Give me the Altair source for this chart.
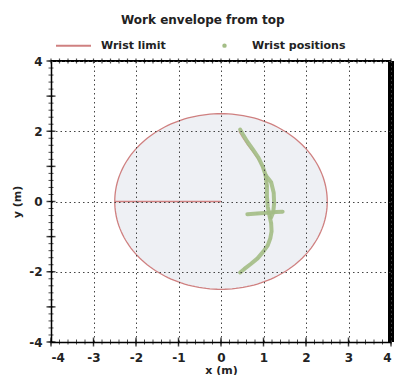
import altair as alt
import pandas as pd
import numpy as np

# ---- data ----
limit_radius = 2.5                      # wrist reach limit (m)
reach_x = [0.0, -2.5]                   # radial line drawn from origin to limit
reach_y = [0.0, 0.0]

# wrist trajectory, main sweep
sweep_x = [0.45, 0.52, 0.62, 0.75, 0.88, 0.98, 1.05, 1.08, 1.08, 1.10, 1.14, 1.18, 1.19, 1.16, 1.10, 1.00, 0.86, 0.70, 0.55, 0.45]
sweep_y = [2.05, 1.90, 1.70, 1.48, 1.25, 1.00, 0.75, 0.45, 0.15, -0.15, -0.40, -0.62, -0.85, -1.05, -1.25, -1.42, -1.62, -1.78, -1.92, -2.02]
# return loop beside the sweep
loop_x = [1.05, 1.18, 1.24, 1.25, 1.23, 1.18]
loop_y = [0.75, 0.55, 0.25, -0.05, -0.30, -0.45]
# horizontal stroke
bar_x = [0.62, 0.85, 1.10, 1.30, 1.45]
bar_y = [-0.36, -0.34, -0.32, -0.30, -0.29]
# thin reddish trace along upper sweep
trace_x = [0.42, 0.50, 0.62, 0.76, 0.90, 1.00, 1.06, 1.10]
trace_y = [2.00, 1.84, 1.62, 1.40, 1.15, 0.90, 0.65, 0.40]

series = ["Wrist limit", "Wrist positions"]
colors = ["#cf8080", "#a3bd85"]
legend_shapes = ["M-1,0H1", "M-0.07,0A0.07,0.07,0,1,1,0.07,0A0.07,0.07,0,1,1,-0.07,0Z"]
major_ticks = [-4, -3, -2, -1, 0, 1, 2, 3, 4]
minor_ticks = [round(v, 1) for v in np.arange(-4, 4.001, 0.2)]

# ---- frames ----
t = np.linspace(0, np.pi, 91)
fill_df = pd.DataFrame({"x": limit_radius * np.cos(t),
                        "y": limit_radius * np.sin(t),
                        "y2": -limit_radius * np.sin(t)})
tt = np.linspace(np.pi, 3 * np.pi, 181)
outline_df = pd.DataFrame({"x": reach_x + list(limit_radius * np.cos(tt)),
                           "y": reach_y + list(limit_radius * np.sin(tt))})
outline_df["o"] = range(len(outline_df))

traj_rows = []
for name, xs_, ys_ in [("sweep", sweep_x, sweep_y), ("loop", loop_x, loop_y), ("bar", bar_x, bar_y)]:
    for i, (a, b) in enumerate(zip(xs_, ys_)):
        traj_rows.append({"seg": name, "x": a, "y": b, "o": i})
traj_df = pd.DataFrame(traj_rows)
trace_df = pd.DataFrame({"x": trace_x, "y": trace_y, "o": range(len(trace_x))})

pts_df = pd.DataFrame({"x": sweep_x + loop_x + bar_x, "y": sweep_y + loop_y + bar_y})
pts_df["series"] = "Wrist positions"

minor_df = pd.DataFrame({"v": minor_ticks})
major_df = pd.DataFrame({"v": major_ticks})

FONT = "DejaVu Sans"
xs = alt.Scale(domain=[-4, 4], nice=False, zero=False, padding=0)
ys = alt.Scale(domain=[-4, 4], nice=False, zero=False, padding=0)

common = dict(values=major_ticks, grid=True, gridDash=[1.5, 3], gridColor="#444", gridWidth=1,
              ticks=False, domainColor="#000", domainWidth=1.5,
              labelFont=FONT, labelFontSize=12, labelColor="#222", labelFontWeight="bold",
              titleFont=FONT, titleFontSize=11, titleFontWeight="bold",
              titleColor="#222", zindex=1, labelExpr="'' + datum.value")
xaxis = alt.Axis(title="x (m)", titlePadding=1, labelPadding=10, **common)
yaxis = alt.Axis(title="y (m)", titlePadding=6, labelPadding=9, **common)

fill = alt.Chart(fill_df).mark_area(color="#eef0f4", opacity=1).encode(
    x=alt.X("x:Q", scale=xs, axis=xaxis),
    y=alt.Y("y:Q", scale=ys, axis=yaxis),
    y2="y2:Q")

outline = alt.Chart(outline_df).mark_line(color=colors[0], strokeWidth=1.3).encode(
    x=alt.X("x:Q", scale=xs), y=alt.Y("y:Q", scale=ys), order="o:Q")

traj = alt.Chart(traj_df).mark_line(color=colors[1], strokeWidth=4, opacity=0.9,
                                    strokeCap="round", strokeJoin="round").encode(
    x=alt.X("x:Q", scale=xs), y=alt.Y("y:Q", scale=ys), detail="seg:N", order="o:Q")

trace = alt.Chart(trace_df).mark_line(color="#c98a82", strokeWidth=1.2, opacity=0.8).encode(
    x=alt.X("x:Q", scale=xs), y=alt.Y("y:Q", scale=ys), order="o:Q")

pts = alt.Chart(pts_df).mark_point(filled=False, strokeWidth=2, opacity=0.6, size=30).encode(
    x=alt.X("x:Q", scale=xs), y=alt.Y("y:Q", scale=ys),
    color=alt.Color("series:N", scale=alt.Scale(domain=series, range=colors),
                    legend=alt.Legend(title=None, orient="none", legendX=4, legendY=-34,
                                      direction="horizontal", columnPadding=40, labelOffset=9,
                                      labelFont=FONT, labelFontSize=11, labelFontWeight="bold",
                                      labelColor="#222",
                                      symbolStrokeWidth=2, symbolSize=1225, symbolOpacity=1)),
    shape=alt.Shape("series:N", scale=alt.Scale(domain=series, range=legend_shapes)),
)

ytick_minor = alt.Chart(minor_df).mark_tick(orient="horizontal", size=5, thickness=1, color="#000").encode(
    y=alt.Y("v:Q", scale=ys), x=alt.datum(-4, scale=xs))
ytick_major = alt.Chart(major_df).mark_tick(orient="horizontal", size=9, thickness=1.5, color="#000").encode(
    y=alt.Y("v:Q", scale=ys), x=alt.datum(-4, scale=xs))
xtick_minor = alt.Chart(minor_df).mark_tick(orient="vertical", size=5, thickness=1, color="#000").encode(
    x=alt.X("v:Q", scale=xs), y=alt.datum(-4, scale=ys))
xtick_major = alt.Chart(major_df).mark_tick(orient="vertical", size=9, thickness=1.5, color="#000").encode(
    x=alt.X("v:Q", scale=xs), y=alt.datum(-4, scale=ys))
ttick_minor = alt.Chart(minor_df).mark_tick(orient="vertical", size=5, thickness=1.2, color="#000").encode(
    x=alt.X("v:Q", scale=xs), y=alt.datum(4, scale=ys))

top_rule = alt.Chart(major_df).mark_rule(color="#000", strokeWidth=1.2).encode(
    x=alt.datum(-4, scale=xs), x2=alt.datum(4), y=alt.datum(4, scale=ys))
right_rule = alt.Chart(major_df).mark_rule(color="#000", strokeWidth=6).encode(
    x=alt.datum(4, scale=xs), y=alt.datum(-4, scale=ys), y2=alt.datum(4))

chart = alt.layer(fill, outline, trace, traj, pts, ytick_minor, ytick_major, xtick_minor,
                  xtick_major, ttick_minor, top_rule, right_rule).properties(
    width=340, height=281,
    title=alt.TitleParams("Work envelope from top", font=FONT, fontSize=12, fontWeight="bold",
                          color="#222", anchor="middle", frame="bounds", offset=0),
    autosize=alt.AutoSizeParams(type="none"),
    padding={"left": 43, "top": 53, "right": 4, "bottom": 33},
).configure_view(stroke=None).configure_scale(continuousPadding=0)

chart.save("out.html", embed_options={"renderer": "svg", "actions": False})
